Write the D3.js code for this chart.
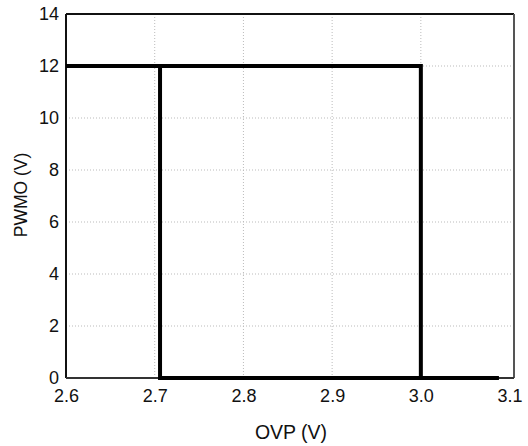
<!DOCTYPE html>
<html>
<head>
<meta charset="utf-8">
<script src="https://cdn.jsdelivr.net/npm/d3@7"></script>
<style>
  body { margin: 0; background: #fff; }
  text { font-family: Arial, "Liberation Sans", sans-serif; fill: #111; }
</style>
</head>
<body>
<div id="chart"></div>
<script>
// data
var xTicks = [2.6, 2.7, 2.8, 2.9, 3.0, 3.1],
    yTicks = [0, 2, 4, 6, 8, 10, 12, 14];

// rising trace (OVP going up): output high until 3.0 V
var riseX = [2.6, 3.0, 3.0, 3.088],
    riseY = [12, 12, 0, 0];

// falling trace: output comes back at about 2.706 V
var fallX = [2.706, 2.706, 3.0],
    fallY = [12, 0, 0];

var width = 528, height = 446,
    margin = {top: 14, right: 14, bottom: 68, left: 66};

var x = d3.scaleLinear().domain([2.6, 3.105]).range([margin.left, width - margin.right]),
    y = d3.scaleLinear().domain([0, 14]).range([height - margin.bottom, margin.top]);

var svg = d3.select("#chart").append("svg")
    .attr("width", width)
    .attr("height", height);

// dotted grid
svg.append("g").attr("class", "grid")
    .selectAll("line.gx")
    .data(xTicks.slice(1, -1))
    .enter().append("line")
    .attr("x1", function(d){ return x(d); })
    .attr("x2", function(d){ return x(d); })
    .attr("y1", y(0))
    .attr("y2", y(14))
    .attr("stroke", "#bbb")
    .attr("stroke-width", 1)
    .attr("stroke-dasharray", "1,2");

svg.select(".grid")
    .selectAll("line.gy")
    .data(yTicks.slice(1, -1))
    .enter().append("line")
    .attr("x1", x(2.6))
    .attr("x2", x(3.105))
    .attr("y1", function(d){ return y(d); })
    .attr("y2", function(d){ return y(d); })
    .attr("stroke", "#bbb")
    .attr("stroke-width", 1)
    .attr("stroke-dasharray", "1,2");

// axes, labels only
var xAxis = d3.axisBottom(x).tickValues(xTicks).tickSize(0).tickPadding(11)
        .tickFormat(d3.format(".1f")),
    yAxis = d3.axisLeft(y).tickValues(yTicks).tickSize(0).tickPadding(7)
        .tickFormat(d3.format("d"));

var gx = svg.append("g")
    .attr("transform", "translate(0," + y(0) + ")")
    .call(xAxis);
var gy = svg.append("g")
    .attr("transform", "translate(" + x(2.6) + ",0)")
    .call(yAxis);

[gx, gy].forEach(function(g){
    g.select(".domain").remove();
    g.selectAll("text")
        .style("font-size", "18px")
        .attr("fill", "#111");
});

// frame
svg.append("line").attr("x1", x(2.6)).attr("x2", x(3.105)).attr("y1", y(14)).attr("y2", y(14))
    .attr("stroke", "#111").attr("stroke-width", 2);
svg.append("line").attr("x1", x(2.6)).attr("x2", x(2.6)).attr("y1", y(14)).attr("y2", y(0))
    .attr("stroke", "#111").attr("stroke-width", 2);
svg.append("line").attr("x1", x(3.105)).attr("x2", x(3.105)).attr("y1", y(14)).attr("y2", y(0))
    .attr("stroke", "#555").attr("stroke-width", 2);
svg.append("line").attr("x1", x(2.6)).attr("x2", x(3.105)).attr("y1", y(0)).attr("y2", y(0))
    .attr("stroke", "#333").attr("stroke-width", 2);

// traces
var line = d3.line()
    .x(function(d){ return x(d[0]); })
    .y(function(d){ return y(d[1]); });

[[riseX, riseY], [fallX, fallY]].forEach(function(s){
    svg.append("path")
        .datum(d3.zip(s[0], s[1]))
        .attr("d", line)
        .attr("fill", "none")
        .attr("stroke", "#000")
        .attr("stroke-width", 4)
        .attr("stroke-linejoin", "miter")
        .attr("stroke-linecap", "butt");
});

// axis titles
svg.append("text")
    .attr("x", 291)
    .attr("y", 439)
    .attr("text-anchor", "middle")
    .style("font-size", "19.5px")
    .text("OVP (V)");

svg.append("text")
    .attr("transform", "translate(27,195) rotate(-90)")
    .attr("text-anchor", "middle")
    .style("font-size", "17.5px")
    .text("PWMO (V)");
</script>
</body>
</html>
